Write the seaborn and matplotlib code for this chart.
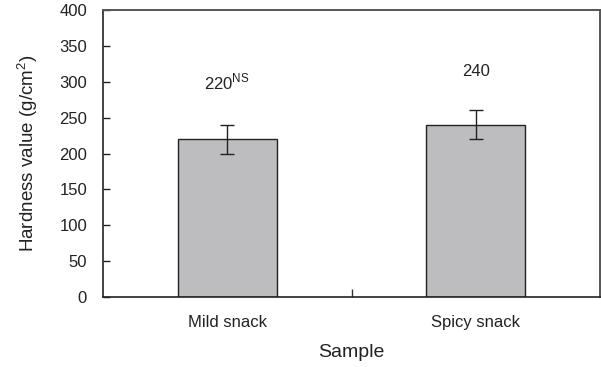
import matplotlib
matplotlib.use("Agg")
import matplotlib.pyplot as plt
import seaborn as sns
import pandas as pd
import numpy as np

samples = ["Mild snack", "Spicy snack"]
hardness = [220, 240]
err = [20, 20]
labels = ["220$^{\\mathregular{NS}}$", "240"]
label_y = [300, 314]

sns.set_style("ticks")
plt.rcParams['font.family'] = ['Liberation Sans', 'DejaVu Sans']

fig = plt.figure(figsize=(6.01, 3.67), dpi=100)
ax = fig.add_axes([103/601, 1-297/367, 497/601, 287/367])

df = pd.DataFrame({"Sample": samples, "Hardness": hardness})
sns.barplot(data=df, x="Sample", y="Hardness", ax=ax, color="#BDBDC0",
            edgecolor="#222222", linewidth=1.0, width=0.4, errorbar=None,
            saturation=1)
ax.errorbar(x=np.arange(len(samples)), y=hardness, yerr=err, fmt="none",
            ecolor="#222222", elinewidth=1.0, capsize=5, capthick=1.0)

for i, (t, yy) in enumerate(zip(labels, label_y)):
    ax.text(i, yy, t, ha="center", va="center", fontsize=12, color="#222222")

ax.set_xlim(-0.5, 1.5)
ax.set_ylim(0, 400)
ax.set_yticks(range(0, 401, 50))
ax.set_xticks([0.5], minor=True)
ax.tick_params(axis="x", which="major", length=0, labelsize=12, pad=13, colors="#222222")
ax.tick_params(axis="x", which="minor", direction="in", length=6, width=1, color="#333333")
ax.tick_params(axis="y", direction="in", length=5, width=1, labelsize=12, pad=11.5, colors="#222222")
for s in ["left", "bottom"]:
    ax.spines[s].set_color("#222222")
    ax.spines[s].set_linewidth(1.2)
for s in ["top", "right"]:
    ax.spines[s].set_visible(True)
    ax.spines[s].set_color("#555555")
    ax.spines[s].set_linewidth(1.4)

ax.set_xlabel("Sample", fontsize=14, labelpad=10, color="#222222")
ax.set_ylabel("Hardness value (g/cm$^{\\mathregular{2}}$)", fontsize=13.5, labelpad=14, color="#222222")

fig.savefig("out.png", dpi=100)
